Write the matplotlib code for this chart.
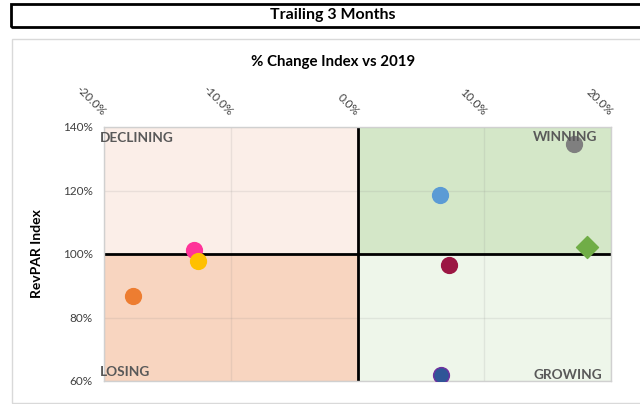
import matplotlib
matplotlib.use("Agg")
import matplotlib.pyplot as plt
from matplotlib.patches import Rectangle
from matplotlib.ticker import FuncFormatter

plt.rcParams['font.family'] = ['Lato', 'DejaVu Sans']

# ---- data ----
x_change = [-12.9, -12.6, -17.7, 17.1, 6.5, 18.1, 7.2, 6.6]      # % change index vs 2019
y_revpar = [101.3, 97.8, 86.8, 134.8, 118.5, 102.2, 96.6, 62.0]   # RevPAR index %
face_colors = ['#FF3399', '#FFC000', '#ED7D31', '#7F7F7F', '#5B9BD5', '#70AD47', '#9B1743', '#2F5597']
edge_colors = ['#FF3399', '#FFC000', '#ED7D31', '#7F7F7F', '#5B9BD5', '#70AD47', '#9B1743', '#7030A0']
markers = ['o', 'o', 'o', 'o', 'o', 'D', 'o', 'o']

x_ticks = [-20, -10, 0, 10, 20]
y_ticks = [60, 80, 100, 120, 140]
quadrant_names = ['DECLINING', 'WINNING', 'LOSING', 'GROWING']

W, H = 640, 404
fig = plt.figure(figsize=(W / 100, H / 100), dpi=100)

# title box
fig.patches.append(Rectangle((11 / W, 1 - 27 / H), 700 / W, 23 / H, transform=fig.transFigure,
                             fill=False, edgecolor='black', linewidth=2, clip_on=False))
fig.text(333 / W, 1 - 15.5 / H, 'Trailing 3 Months', ha='center', va='center',
         fontsize=11.5, fontweight='bold', color='black')
# chart area border
fig.patches.append(Rectangle((12 / W, 1 - 403 / H), 700 / W, 364 / H, transform=fig.transFigure,
                             fill=False, edgecolor='#D9D9D9', linewidth=1, clip_on=False))

ax = fig.add_axes([104 / W, 1 - 381 / H, 507 / W, 254 / H])
xmin, xmax = x_ticks[0], x_ticks[-1]
ymin, ymax = y_ticks[0], y_ticks[-1]
ax.set_xlim(xmin, xmax)
ax.set_ylim(ymin, ymax)

# quadrants
ax.add_patch(Rectangle((xmin, 100), 0 - xmin, ymax - 100, facecolor='#FBEEE8', edgecolor='none', zorder=0))
ax.add_patch(Rectangle((xmin, ymin), 0 - xmin, 100 - ymin, facecolor='#F8D5C0', edgecolor='none', zorder=0))
ax.add_patch(Rectangle((0, 100), xmax, ymax - 100, facecolor='#D4E7C8', edgecolor='none', zorder=0))
ax.add_patch(Rectangle((0, ymin), xmax, 100 - ymin, facecolor='#EEF6EA', edgecolor='none', zorder=0))

ax.set_xticks(x_ticks)
ax.set_yticks(y_ticks)
ax.grid(True, color='#888888', alpha=0.15, linewidth=1, zorder=1)
ax.set_axisbelow(True)
ax.axvline(0, color='black', linewidth=2, zorder=2)
ax.axhline(100, color='black', linewidth=2, zorder=2)

for s in ax.spines.values():
    s.set_color('#D0D0D0')
    s.set_linewidth(1)

ax.xaxis.tick_top()
ax.tick_params(axis='both', length=0, labelsize=8.5, labelcolor='#404040')
ax.tick_params(axis='x', pad=9.5)
ax.tick_params(axis='y', pad=8)
ax.xaxis.set_major_formatter(FuncFormatter(lambda v, p: f'{v:.1f}%'))
ax.yaxis.set_major_formatter(FuncFormatter(lambda v, p: f'{v:.0f}%'))
for lab in ax.get_xticklabels():
    lab.set_rotation(-45)
    lab.set_rotation_mode('anchor')
    lab.set_ha('right')
    lab.set_va('center')

for xv, yv, fc, ec, m in zip(x_change, y_revpar, face_colors, edge_colors, markers):
    ax.scatter([xv], [yv], s=125 if m == 'D' else 130, marker=m, facecolor=fc,
               edgecolor=ec, linewidth=1, zorder=4)

# quadrant labels
qc = '#595959'
ax.text(-0.008, 0.955, quadrant_names[0], transform=ax.transAxes, ha='left', va='center',
        fontsize=9.8, fontweight='bold', color=qc, zorder=5)
ax.text(0.973, 0.962, quadrant_names[1], transform=ax.transAxes, ha='right', va='center',
        fontsize=9.8, fontweight='bold', color=qc, zorder=5)
ax.text(-0.008, 0.035, quadrant_names[2], transform=ax.transAxes, ha='left', va='center',
        fontsize=9.8, fontweight='bold', color=qc, zorder=5)
ax.text(0.983, 0.024, quadrant_names[3], transform=ax.transAxes, ha='right', va='center',
        fontsize=9.8, fontweight='bold', color=qc, zorder=5)

fig.text(333 / W, 1 - 62 / H, '% Change Index vs 2019', ha='center', va='center',
         fontsize=10.8, fontweight='bold', color='black')
fig.text(37 / W, 1 - 254 / H, 'RevPAR Index', ha='center', va='center', rotation=90,
         fontsize=10, fontweight='bold', color='black')

fig.savefig('out.png', dpi=100)
